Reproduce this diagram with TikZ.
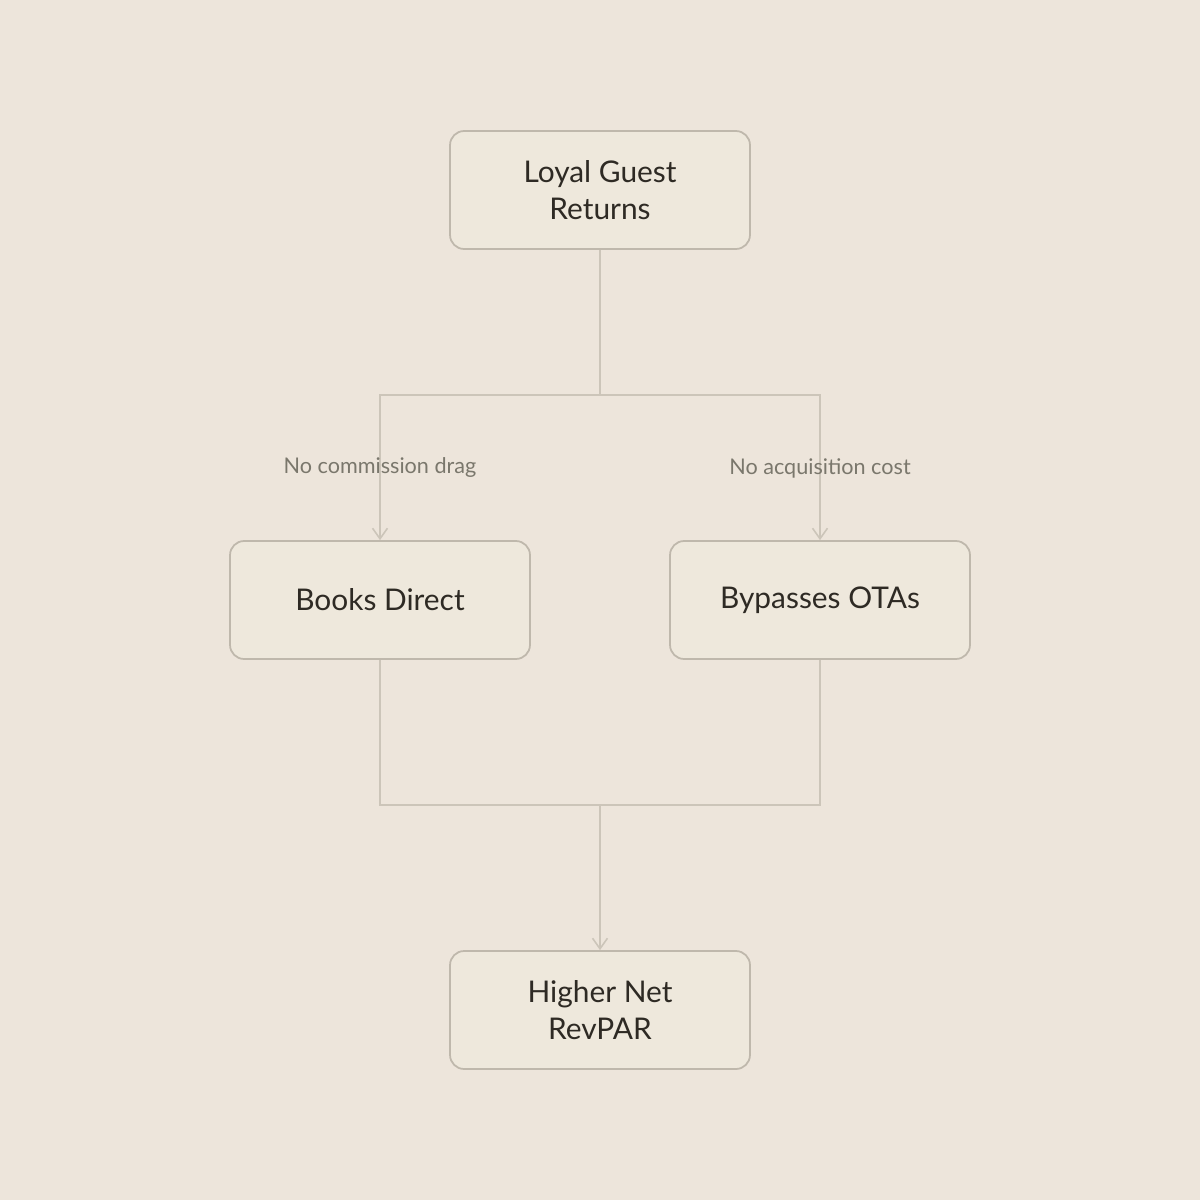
\documentclass[tikz,border=0pt]{standalone}
\usepackage{fontspec}
\setmainfont{Lato}
\usetikzlibrary{arrows.meta,positioning}
\definecolor{bgcol}{HTML}{EDE5DB}
\definecolor{boxfill}{HTML}{EEE8DC}
\definecolor{boxline}{HTML}{BFB8AC}
\definecolor{textcol}{HTML}{2E2A24}
\definecolor{linecol}{HTML}{CCC5B9}
\definecolor{labcol}{HTML}{7A776C}
\begin{document}
\begin{tikzpicture}[x=0.02cm,y=-0.02cm,>={Straight Barb[length=6pt,width=8.5pt]},
  box node/.style={rectangle,rounded corners=8pt,fill=boxfill,draw=boxline,line width=1pt,
    minimum width=6cm,minimum height=2.36cm,align=center,text=textcol,
    font=\fontsize{17}{21}\selectfont},
  lab node/.style={text=labcol,font=\fontsize{12.3}{14}\selectfont},
  link/.style={draw=linecol,line width=0.9pt}]

  \fill[bgcol] (0,0) rectangle (1200,1200);

  \node[box node] (loyal) at (600,190) {Loyal Guest\\Returns};
  \node[box node] (direct) at (380,600) {Books Direct};
  \node[box node] (otas) at (820,600) {Bypasses OTAs};
  \node[box node] (revpar) at (600,1010) {Higher Net\\RevPAR};

  \coordinate (split) at (600,395);
  \coordinate (join) at (600,805);

  \path[link] (loyal.south) -- (split);
  \path[link,->] (split) -| (direct.north);
  \path[link,->] (split) -| (otas.north);
  \path[link] (direct.south) |- (join);
  \path[link] (otas.south) |- (join);
  \path[link,->] (join) -- (revpar.north);

  \node[lab node] (nodrag) at (380,468) {No commission drag};
  \node[lab node] (nocost) at (820,468) {No acquisition cost};
\end{tikzpicture}
\end{document}
